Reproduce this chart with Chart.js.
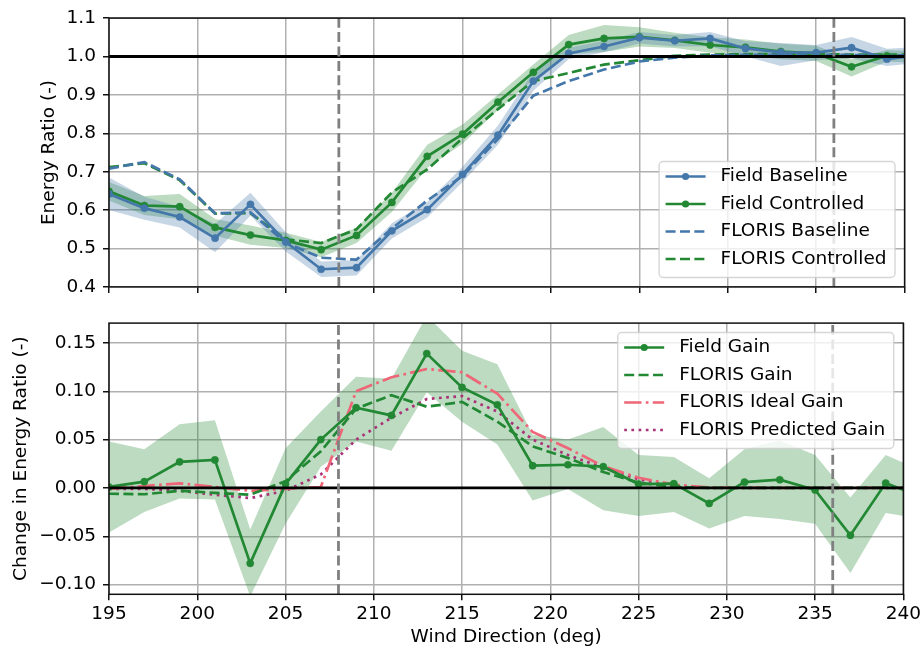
<!DOCTYPE html>
<html>
<head>
<meta charset="utf-8">
<script src="https://cdn.jsdelivr.net/npm/chart.js@4.4.1/dist/chart.umd.min.js"></script>
<style>
  html, body { margin: 0; padding: 0; background: #fff; }
  canvas { display: block; }
</style>
</head>
<body>
<canvas id="ratioChart" width="924" height="305"></canvas>
<canvas id="gainChart" width="924" height="348"></canvas>
<script>
// wind direction bins (deg), last bin lies just past the axis limit
const windDirection = [195, 197, 199, 201, 203, 205, 207, 209, 211, 213, 215, 217, 219, 221, 223, 225, 227, 229, 231, 233, 235, 237, 239, 241];

// top panel : energy ratio
const fieldBaseline     = [0.642, 0.605, 0.582, 0.527, 0.615, 0.517, 0.446, 0.450, 0.546, 0.601, 0.693, 0.795, 0.936, 1.008, 1.026, 1.049, 1.041, 1.047, 1.021, 1.011, 1.010, 1.023, 0.993, 1.005];
const fieldBaselineLow  = [0.600, 0.575, 0.555, 0.490, 0.585, 0.492, 0.426, 0.430, 0.526, 0.581, 0.673, 0.770, 0.911, 0.993, 1.011, 1.034, 1.026, 1.027, 1.000, 0.975, 0.990, 0.995, 0.975, 0.985];
const fieldBaselineHigh = [0.685, 0.635, 0.609, 0.564, 0.645, 0.542, 0.466, 0.470, 0.566, 0.621, 0.713, 0.820, 0.961, 1.023, 1.041, 1.064, 1.056, 1.064, 1.040, 1.035, 1.030, 1.051, 1.020, 1.025];
const fieldControlled     = [0.649, 0.612, 0.609, 0.555, 0.535, 0.521, 0.497, 0.534, 0.620, 0.740, 0.798, 0.881, 0.959, 1.031, 1.047, 1.051, 1.042, 1.030, 1.024, 1.013, 1.008, 0.973, 1.002, 0.998];
const fieldControlledLow  = [0.625, 0.587, 0.576, 0.533, 0.510, 0.501, 0.477, 0.514, 0.595, 0.710, 0.773, 0.861, 0.939, 1.006, 1.012, 1.026, 1.022, 1.010, 1.004, 0.993, 0.988, 0.948, 0.987, 0.983];
const fieldControlledHigh = [0.673, 0.637, 0.642, 0.577, 0.560, 0.541, 0.517, 0.554, 0.645, 0.770, 0.823, 0.901, 0.979, 1.056, 1.082, 1.076, 1.062, 1.050, 1.044, 1.033, 1.028, 0.993, 1.017, 1.013];
const florisBaseline   = [0.708, 0.725, 0.680, 0.592, 0.594, 0.515, 0.476, 0.471, 0.552, 0.625, 0.689, 0.785, 0.898, 0.936, 0.966, 0.987, 0.997, 1.003, 1.004, 1.004, 1.004, 1.004, 1.003, 1.003];
const florisControlled = [0.712, 0.722, 0.678, 0.591, 0.592, 0.524, 0.514, 0.550, 0.646, 0.706, 0.787, 0.863, 0.936, 0.957, 0.979, 0.990, 1.002, 1.005, 1.006, 1.006, 1.006, 1.005, 1.005, 1.005];

// bottom panel : change in energy ratio
const fieldGain     = [0.001, 0.0065, 0.027, 0.029, -0.078, 0.004, 0.050, 0.083, 0.075, 0.139, 0.104, 0.086, 0.023, 0.024, 0.022, 0.004, 0.0044, -0.016, 0.006, 0.0085, -0.002, -0.049, 0.005, -0.009];
const fieldGainLow  = [-0.046, -0.025, -0.011, -0.012, -0.112, -0.037, 0.022, 0.048, 0.0385, 0.099, 0.0685, 0.045, -0.013, -0.001, -0.023, -0.029, -0.025, -0.042, -0.029, -0.032, -0.037, -0.088, -0.026, -0.032];
const fieldGainHigh = [0.048, 0.040, 0.066, 0.070, -0.043, 0.041, 0.079, 0.115, 0.113, 0.178, 0.142, 0.128, 0.055, 0.050, 0.063, 0.034, 0.032, 0.010, 0.040, 0.049, 0.034, -0.010, 0.034, 0.018];
const florisGain          = [-0.006, -0.0065, -0.003, -0.005, -0.007, 0.007, 0.038, 0.082, 0.096, 0.084, 0.089, 0.0685, 0.043, 0.031, 0.0165, 0.0055, 0.001, 0, 0, 0, 0, 0, 0, 0];
const florisIdealGain     = [-0.001, 0.002, 0.0048, 0.001, -0.003, -0.001, 0.001, 0.100, 0.1145, 0.123, 0.1196, 0.0975, 0.058, 0.041, 0.0225, 0.0105, 0.0035, 0.0005, 0, 0, 0, 0, 0, 0];
const florisPredictedGain = [-0.001, -0.001, -0.003, -0.007, -0.0105, -0.003, 0.014, 0.050, 0.0726, 0.092, 0.095, 0.079, 0.050, 0.034, 0.021, 0.009, 0.002, 0, 0, 0, 0, 0, 0, 0];

// reference lines
const steeringLimits = [208, 236];
const ratioReference = 1.0;
const gainReference = 0;

const BLUE = '#4477AA', GREEN = '#228833', PINK = '#EE6677', PURPLE = '#AA3377';
const BLUE_BAND = 'rgba(68,119,170,0.3)', GREEN_BAND = 'rgba(34,136,51,0.3)';
const FONT = "'DejaVu Sans', sans-serif";
const FS = 18.5;

Chart.defaults.font.family = FONT;
Chart.defaults.font.size = FS;
Chart.defaults.color = '#000';

const pts = arr => windDirection.map((x, i) => ({ x: x, y: arr[i] }));

function fieldLine(label, arr, color) {
    return {
        label: label, data: pts(arr), inLegend: true, order: 1,
        borderColor: color, backgroundColor: color, borderWidth: 2.7, tension: 0,
        pointRadius: 3.6, pointBackgroundColor: color, pointBorderColor: color, pointBorderWidth: 0.5
    };
}
function modelLine(label, arr, color, dash) {
    return {
        label: label, data: pts(arr), inLegend: true, order: 2,
        borderColor: color, backgroundColor: color, borderWidth: 2.7, borderDash: dash,
        tension: 0, pointRadius: 0
    };
}
function band(low, high, color) {
    return [
        { data: pts(low), order: 10, borderWidth: 0, borderColor: 'transparent', pointRadius: 0, fill: false, tension: 0 },
        { data: pts(high), order: 10, borderWidth: 0, borderColor: 'transparent', pointRadius: 0, fill: '-1', backgroundColor: color, tension: 0 }
    ];
}

// horizontal reference, wake steering limits and the axes frame
const guides = {
    id: 'guides',
    afterDatasetsDraw(chart, args, opts) {
        const { ctx, chartArea: a, scales: { x, y } } = chart;
        ctx.save();
        ctx.beginPath();
        ctx.rect(a.left, a.top, a.right - a.left, a.bottom - a.top);
        ctx.clip();
        const py = y.getPixelForValue(opts.level);
        ctx.strokeStyle = '#000';
        ctx.lineWidth = 2.8;
        ctx.beginPath(); ctx.moveTo(a.left, py); ctx.lineTo(a.right, py); ctx.stroke();
        ctx.strokeStyle = '#808080';
        ctx.setLineDash([10, 4.4]);
        opts.marks.forEach(v => {
            const px = x.getPixelForValue(v);
            ctx.beginPath(); ctx.moveTo(px, a.bottom); ctx.lineTo(px, a.top); ctx.stroke();
        });
        ctx.restore();
        ctx.save();
        ctx.strokeStyle = '#111';
        ctx.lineWidth = 1.5;
        ctx.strokeRect(a.left, a.top, a.right - a.left, a.bottom - a.top);
        ctx.restore();
    }
};

// matplotlib-like legend box inside the plot
const boxLegend = {
    id: 'boxLegend',
    afterDraw(chart, args, opts) {
        const { ctx, chartArea: a } = chart;
        const items = chart.data.datasets.filter(d => d.inLegend);
        ctx.save();
        ctx.font = FS + 'px ' + FONT;
        const textW = Math.max(...items.map(d => ctx.measureText(d.label).width));
        const rowH = 27.5;
        const w = 6.5 + 40 + 15 + textW + 8.5;
        const h = items.length * rowH + 6;
        const x = a.right - 9.6 - w;
        const y = opts.corner === 'top' ? a.top + 9.4 : a.bottom - 9.4 - h;
        ctx.fillStyle = 'rgba(255,255,255,0.8)';
        ctx.strokeStyle = 'rgba(204,204,204,0.8)';
        ctx.lineWidth = 1.4;
        ctx.beginPath();
        if (ctx.roundRect) ctx.roundRect(x, y, w, h, 4); else ctx.rect(x, y, w, h);
        ctx.fill();
        ctx.stroke();
        items.forEach((d, i) => {
            const cy = y + 15 + i * rowH;
            ctx.strokeStyle = d.borderColor;
            ctx.lineWidth = d.borderWidth;
            ctx.setLineDash(d.borderDash || []);
            ctx.beginPath(); ctx.moveTo(x + 6.5, cy); ctx.lineTo(x + 46.5, cy); ctx.stroke();
            ctx.setLineDash([]);
            if (d.pointRadius > 0) {
                ctx.fillStyle = d.borderColor;
                ctx.beginPath(); ctx.arc(x + 26.5, cy, d.pointRadius, 0, Math.PI * 2); ctx.fill();
            }
            ctx.fillStyle = '#000';
            ctx.textBaseline = 'middle';
            ctx.textAlign = 'left';
            ctx.fillText(d.label, x + 61.5, cy);
        });
        ctx.restore();
    }
};

function xAxis(showLabels, height) {
    return {
        type: 'linear', min: 195, max: 240,
        afterFit: s => { s.height = height; },
        grid: { color: '#b0b0b0', lineWidth: 1.5, tickLength: 6, tickColor: '#111', tickWidth: 1.5 },
        border: { display: false },
        ticks: { display: showLabels, stepSize: 5, autoSkip: false, maxRotation: 0, padding: 3 },
        title: { display: showLabels, text: 'Wind Direction (deg)', padding: { top: 0, bottom: 4.9 } }
    };
}
function yAxis(title, min, max, step, digits, titlePad) {
    return {
        min: min, max: max,
        afterFit: s => { s.width = 109; },
        grid: { color: '#b0b0b0', lineWidth: 1.5, tickLength: 6, tickColor: '#111', tickWidth: 1.5 },
        border: { display: false },
        ticks: {
            stepSize: step, includeBounds: false, autoSkip: false, padding: 7,
            callback: v => (Math.abs(v) < 1e-9 ? 0 : v).toFixed(digits).replace('-', '\u2212')
        },
        title: { display: true, text: title, padding: { top: titlePad, bottom: 0 } }
    };
}

new Chart(document.getElementById('ratioChart'), {
    type: 'line',
    data: {
        datasets: [
            fieldLine('Field Baseline', fieldBaseline, BLUE),
            fieldLine('Field Controlled', fieldControlled, GREEN),
            modelLine('FLORIS Baseline', florisBaseline, BLUE, [10, 4.4]),
            modelLine('FLORIS Controlled', florisControlled, GREEN, [10, 4.4]),
            ...band(fieldBaselineLow, fieldBaselineHigh, BLUE_BAND),
            ...band(fieldControlledLow, fieldControlledHigh, GREEN_BAND)
        ]
    },
    options: {
        responsive: false,
        animation: false,
        layout: { padding: { top: 14.5, right: 19.4, bottom: 0, left: 0 } },
        scales: {
            x: xAxis(false, 16.3),
            y: yAxis('Energy Ratio (-)', 0.4, 1.1, 0.1, 1, 37.9)
        },
        plugins: {
            legend: { display: false },
            tooltip: { enabled: false },
            guides: { level: ratioReference, marks: steeringLimits },
            boxLegend: { corner: 'bottom' }
        }
    },
    plugins: [guides, boxLegend]
});

new Chart(document.getElementById('gainChart'), {
    type: 'line',
    data: {
        datasets: [
            fieldLine('Field Gain', fieldGain, GREEN),
            modelLine('FLORIS Gain', florisGain, GREEN, [10, 4.4]),
            modelLine('FLORIS Ideal Gain', florisIdealGain, PINK, [17.3, 4.3, 2.7, 4.3]),
            modelLine('FLORIS Predicted Gain', florisPredictedGain, PURPLE, [2.7, 4.5]),
            ...band(fieldGainLow, fieldGainHigh, GREEN_BAND)
        ]
    },
    options: {
        responsive: false,
        animation: false,
        layout: { padding: { top: 15.7, right: 19.4, bottom: 0, left: 0 } },
        scales: {
            x: xAxis(true, 58.7),
            y: yAxis('Change in Energy Ratio (-)', -0.11, 0.1705, 0.05, 2, 9.7)
        },
        plugins: {
            legend: { display: false },
            tooltip: { enabled: false },
            guides: { level: gainReference, marks: steeringLimits },
            boxLegend: { corner: 'top' }
        }
    },
    plugins: [guides, boxLegend]
});
</script>
</body>
</html>
